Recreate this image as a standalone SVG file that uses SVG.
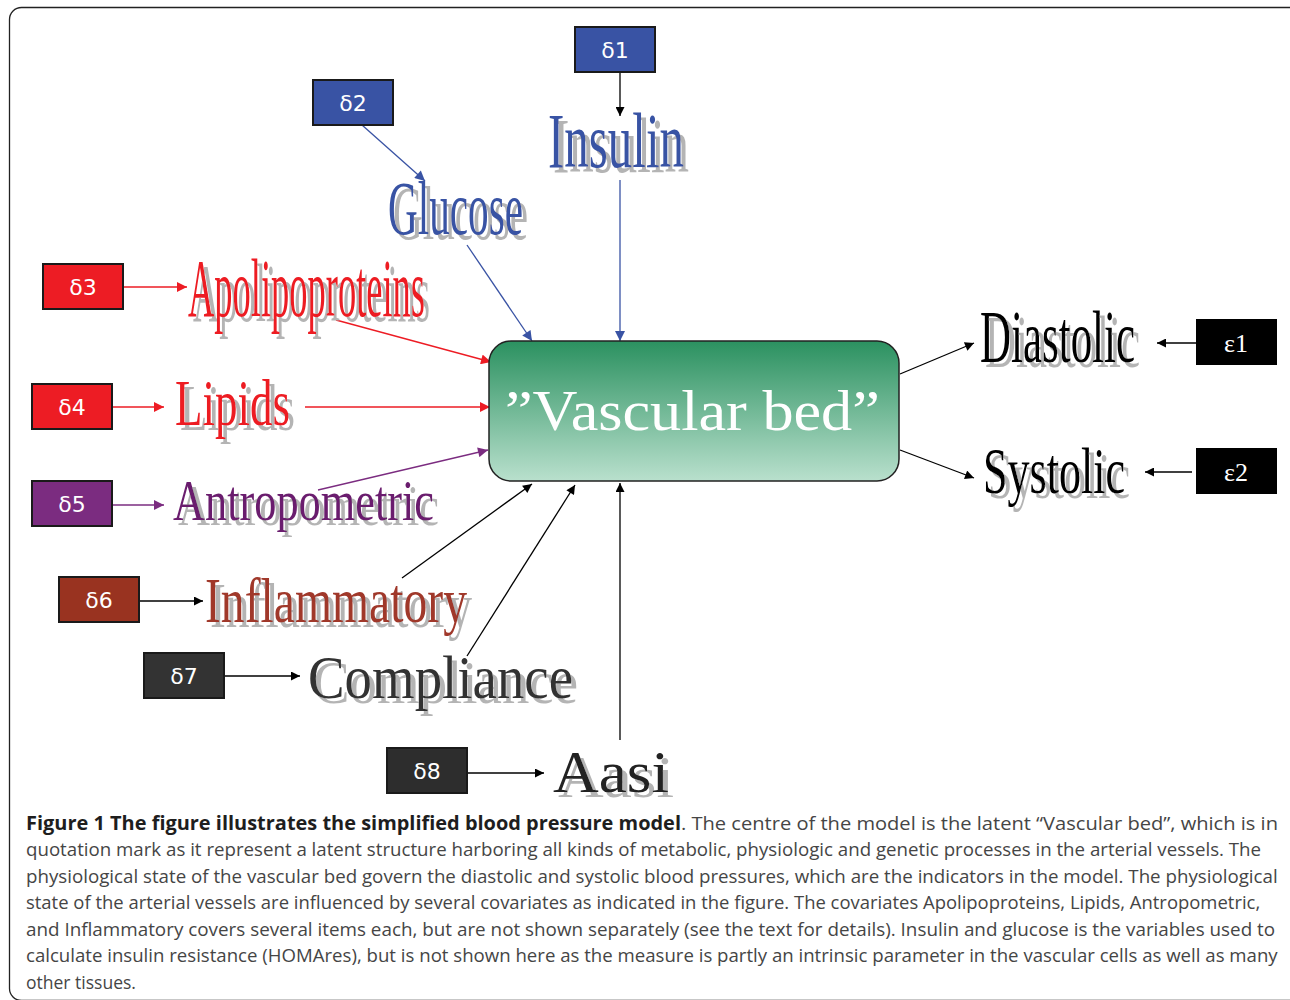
<svg xmlns="http://www.w3.org/2000/svg" width="1290" height="1000" viewBox="0 0 1290 1000">
<style>
.box{stroke:#1a1a1a;stroke-width:2}
.bt{font-family:"DejaVu Sans",sans-serif;font-size:22px;fill:#ffffff;text-anchor:middle}
.et{font-family:"Liberation Serif",serif;font-size:26px;fill:#ffffff;text-anchor:middle}
.lab{font-family:"Liberation Serif",serif}
.shd{filter:url(#sh)}
.c{fill:none;stroke-width:1.3}
.cap{font-family:"Open Sans",sans-serif;font-size:19px;fill:#454545}
.capb{font-family:"Open Sans",sans-serif;font-size:19px;font-weight:bold;fill:#1e1e1e}
</style>
<defs>
<filter id="sh" x="-5%" y="-10%" width="115%" height="130%">
<feOffset in="SourceAlpha" dx="5" dy="5" result="o"/>
<feFlood flood-color="#b4b4b4"/>
<feComposite in2="o" operator="in" result="s"/>
<feMerge><feMergeNode in="s"/><feMergeNode in="SourceGraphic"/></feMerge>
</filter>
<linearGradient id="g" x1="0" y1="0" x2="0" y2="1">
<stop offset="0" stop-color="#2b9160"/>
<stop offset="1" stop-color="#b9e0cd"/>
</linearGradient>
<marker id="ak" viewBox="0 0 10 10" refX="10" refY="5" markerWidth="10" markerHeight="9" markerUnits="userSpaceOnUse" orient="auto"><path d="M0,0 L10,5 L0,10 z" fill="#000"/></marker>
<marker id="ab" viewBox="0 0 10 10" refX="10" refY="5" markerWidth="12" markerHeight="10" markerUnits="userSpaceOnUse" orient="auto"><path d="M0,0 L10,5 L0,10 z" fill="#3953a4"/></marker>
<marker id="ar" viewBox="0 0 10 10" refX="10" refY="5" markerWidth="11" markerHeight="10" markerUnits="userSpaceOnUse" orient="auto"><path d="M0,0 L10,5 L0,10 z" fill="#ed1c24"/></marker>
<marker id="ap" viewBox="0 0 10 10" refX="10" refY="5" markerWidth="11" markerHeight="10" markerUnits="userSpaceOnUse" orient="auto"><path d="M0,0 L10,5 L0,10 z" fill="#7b2c80"/></marker>
</defs>
<rect x="0" y="0" width="1290" height="1000" fill="#ffffff"/>
<rect x="9.5" y="7.5" width="1310" height="993" rx="12" fill="none" stroke="#222" stroke-width="1.3"/>

<g id="connectors">
<line class="c" x1="620" y1="72" x2="620" y2="116" stroke="#000" marker-end="url(#ak)"/>
<line class="c" x1="620" y1="180" x2="620" y2="341" stroke="#3953a4" marker-end="url(#ab)"/>
<line class="c" x1="362" y1="125" x2="425" y2="181" stroke="#3953a4" marker-end="url(#ab)"/>
<line class="c" x1="467" y1="245" x2="532" y2="341" stroke="#3953a4" marker-end="url(#ab)"/>
<line class="c" x1="123" y1="287" x2="187" y2="287" stroke="#ed1c24" marker-end="url(#ar)"/>
<line class="c" x1="336" y1="320" x2="491" y2="362" stroke="#ed1c24" marker-end="url(#ar)"/>
<line class="c" x1="112" y1="407" x2="164" y2="407" stroke="#ed1c24" marker-end="url(#ar)"/>
<line class="c" x1="305" y1="407" x2="490" y2="407" stroke="#ed1c24" marker-end="url(#ar)"/>
<line class="c" x1="112" y1="505" x2="164" y2="505" stroke="#7b2c80" marker-end="url(#ap)"/>
<line class="c" x1="318" y1="490" x2="488" y2="450" stroke="#7b2c80" marker-end="url(#ap)"/>
<line class="c" x1="139" y1="601" x2="203" y2="601" stroke="#000" marker-end="url(#ak)"/>
<line class="c" x1="402" y1="578" x2="532" y2="484" stroke="#000" marker-end="url(#ak)"/>
<line class="c" x1="224" y1="676" x2="300" y2="676" stroke="#000" marker-end="url(#ak)"/>
<line class="c" x1="467" y1="656" x2="575" y2="485" stroke="#000" marker-end="url(#ak)"/>
<line class="c" x1="467" y1="773" x2="544" y2="773" stroke="#000" marker-end="url(#ak)"/>
<line class="c" x1="620" y1="740" x2="620" y2="483" stroke="#000" marker-end="url(#ak)"/>
<line class="c" x1="900" y1="374" x2="974" y2="343" stroke="#000" marker-end="url(#ak)"/>
<line class="c" x1="900" y1="450" x2="974" y2="478" stroke="#000" marker-end="url(#ak)"/>
<line class="c" x1="1196" y1="343" x2="1157" y2="343" stroke="#000" marker-end="url(#ak)"/>
<line class="c" x1="1192" y1="472" x2="1145" y2="472" stroke="#000" marker-end="url(#ak)"/>
</g>

<g id="vascular-bed">
<rect x="489" y="341" width="410" height="140" rx="22" fill="url(#g)" stroke="#222" stroke-width="1.5"/>
<text transform="translate(505,430) scale(1.05,1)" x="0" y="0" font-family="Liberation Serif, serif" font-size="58" fill="#ffffff" textLength="357" lengthAdjust="spacingAndGlyphs">”Vascular bed”</text>
</g>

<g id="d1"><rect class="box" x="575" y="27" width="80" height="45" fill="#3953a4"/><text class="bt" x="615" y="58">δ1</text></g>
<g id="d2"><rect class="box" x="313" y="80" width="80" height="45" fill="#3953a4"/><text class="bt" x="353" y="111">δ2</text></g>
<g id="d3"><rect class="box" x="43" y="264" width="80" height="45" fill="#ed1c24"/><text class="bt" x="83" y="295">δ3</text></g>
<g id="d4"><rect class="box" x="32" y="384" width="80" height="45" fill="#ed1c24"/><text class="bt" x="72" y="415">δ4</text></g>
<g id="d5"><rect class="box" x="32" y="481" width="80" height="45" fill="#7b2c80"/><text class="bt" x="72" y="512">δ5</text></g>
<g id="d6"><rect class="box" x="59" y="577" width="80" height="45" fill="#993320"/><text class="bt" x="99" y="608">δ6</text></g>
<g id="d7"><rect class="box" x="144" y="653" width="80" height="45" fill="#333333"/><text class="bt" x="184" y="684">δ7</text></g>
<g id="d8"><rect class="box" x="387" y="748" width="80" height="45" fill="#2d2d2d"/><text class="bt" x="427" y="779">δ8</text></g>
<g id="e1"><rect x="1196" y="319" width="81" height="46" fill="#000"/><text class="et" x="1236" y="352">ε1</text></g>
<g id="e2"><rect x="1196" y="448" width="81" height="46" fill="#000"/><text class="et" x="1236" y="481">ε2</text></g>

<g id="insulin" class="shd"><text class="lab" transform="translate(548,167) scale(0.628,1)" font-size="78" fill="#3953a4" textLength="216.6" lengthAdjust="spacingAndGlyphs">Insulin</text></g>
<g id="glucose" class="shd"><text class="lab" transform="translate(388,234) scale(0.535,1)" font-size="77" fill="#3953a4" textLength="252.3" lengthAdjust="spacingAndGlyphs">Glucose</text></g>
<g id="apolipoproteins" class="shd"><text class="lab" transform="translate(188,316) scale(0.445,1)" font-size="82" fill="#ed1c24" textLength="532.6" lengthAdjust="spacingAndGlyphs">Apolipoproteins</text></g>
<g id="lipids" class="shd"><text class="lab" transform="translate(175,425) scale(0.68,1)" font-size="66" fill="#ed1c24" textLength="169.1" lengthAdjust="spacingAndGlyphs">Lipids</text></g>
<g id="antropometric" class="shd"><text class="lab" transform="translate(173,520) scale(0.764,1)" font-size="58" fill="#6b1f6e" textLength="341.6" lengthAdjust="spacingAndGlyphs">Antropometric</text></g>
<g id="inflammatory" class="shd"><text class="lab" transform="translate(205,622) scale(0.756,1)" font-size="63" fill="#a0382a" textLength="346.6" lengthAdjust="spacingAndGlyphs">Inflammatory</text></g>
<g id="compliance" class="shd"><text class="lab" transform="translate(308,698) scale(0.884,1)" font-size="62" fill="#333333" textLength="299.8" lengthAdjust="spacingAndGlyphs">Compliance</text></g>
<g id="aasi" class="shd"><text class="lab" transform="translate(553,792) scale(1.05,1)" font-size="60" fill="#222222" textLength="110.5" lengthAdjust="spacingAndGlyphs">Aasi</text></g>
<g id="diastolic" class="shd"><text class="lab" transform="translate(980,362) scale(0.572,1)" font-size="75" fill="#000000" textLength="271" lengthAdjust="spacingAndGlyphs">Diastolic</text></g>
<g id="systolic" class="shd"><text class="lab" transform="translate(983,493) scale(0.68,1)" font-size="65" fill="#000000" textLength="208.8" lengthAdjust="spacingAndGlyphs">Systolic</text></g>

<g id="caption">
<g transform="translate(26,0) scale(0.86,1)">
<text class="capb" x="0" y="830" textLength="761.6" lengthAdjust="spacingAndGlyphs">Figure 1 The figure illustrates the simplified blood pressure model</text>
<text class="cap" x="761.6" y="830" textLength="694.2" lengthAdjust="spacingAndGlyphs">. The centre of the model is the latent “Vascular bed”, which is in</text>
</g>
<g transform="translate(26,0) scale(0.83,1)">
<text class="cap" x="0" y="856" textLength="1488" lengthAdjust="spacingAndGlyphs">quotation mark as it represent a latent structure harboring all kinds of metabolic, physiologic and genetic processes in the arterial vessels. The</text>
<text class="cap" x="0" y="883" textLength="1508" lengthAdjust="spacingAndGlyphs">physiological state of the vascular bed govern the diastolic and systolic blood pressures, which are the indicators in the model. The physiological</text>
<text class="cap" x="0" y="909" textLength="1487" lengthAdjust="spacingAndGlyphs">state of the arterial vessels are influenced by several covariates as indicated in the figure. The covariates Apolipoproteins, Lipids, Antropometric,</text>
<text class="cap" x="0" y="936" textLength="1505" lengthAdjust="spacingAndGlyphs">and Inflammatory covers several items each, but are not shown separately (see the text for details). Insulin and glucose is the variables used to</text>
<text class="cap" x="0" y="962" textLength="1508" lengthAdjust="spacingAndGlyphs">calculate insulin resistance (HOMAres), but is not shown here as the measure is partly an intrinsic parameter in the vascular cells as well as many</text>
<text class="cap" x="0" y="989" textLength="132.5" lengthAdjust="spacingAndGlyphs">other tissues.</text>
</g>
</g>
</svg>
